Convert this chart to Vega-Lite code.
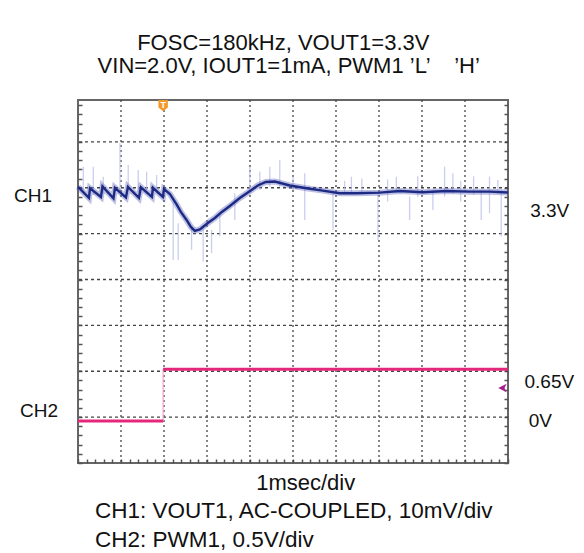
{
  "$schema": "https://vega.github.io/schema/vega-lite/v6.json",
  "width": 430,
  "height": 363,
  "autosize": "none",
  "padding": {"left": 78, "top": 100, "right": 76, "bottom": 90},
  "background": "white",
  "config": {
    "view": {"stroke": "#666666", "strokeWidth": 2},
    "font": "Liberation Sans",
    "text": {"font": "Liberation Sans", "color": "#111111"}
  },
  "datasets": {
    "gridx": [{"t": -1}, {"t": 0}, {"t": 1}, {"t": 2}, {"t": 3}, {"t": 4}, {"t": 5}, {"t": 6}, {"t": 7}],
    "gridy": [{"mV": -50}, {"mV": -40}, {"mV": -30}, {"mV": -20}, {"mV": -10}, {"mV": 0}, {"mV": 10}],
    "ch1": [
      {"t": -2.000, "mV": 0.2}, {"t": -1.745, "mV": -2.2}, {"t": -1.721, "mV": -0.1}, {"t": -1.466, "mV": -2.0},
      {"t": -1.431, "mV": 0.3}, {"t": -1.175, "mV": -2.3}, {"t": -1.141, "mV": 0.0}, {"t": -0.885, "mV": -2.1},
      {"t": -0.839, "mV": 0.2}, {"t": -0.583, "mV": -2.2}, {"t": -0.537, "mV": 0.1}, {"t": -0.281, "mV": -2.0},
      {"t": -0.258, "mV": 0.0}, {"t": -0.026, "mV": -2.0}, {"t": 0.000, "mV": -0.3}, {"t": 0.137, "mV": -1.35},
      {"t": 0.293, "mV": -3.64}, {"t": 0.392, "mV": -5.27}, {"t": 0.525, "mV": -7.02}, {"t": 0.625, "mV": -8.54},
      {"t": 0.718, "mV": -9.41}, {"t": 0.834, "mV": -9.08}, {"t": 1.020, "mV": -7.67}, {"t": 1.182, "mV": -6.58},
      {"t": 1.345, "mV": -5.27}, {"t": 1.531, "mV": -3.97}, {"t": 1.763, "mV": -2.22}, {"t": 2.035, "mV": -0.48},
      {"t": 2.181, "mV": 0.50}, {"t": 2.367, "mV": 1.26}, {"t": 2.576, "mV": 1.37}, {"t": 2.925, "mV": 0.50},
      {"t": 3.312, "mV": -0.11}, {"t": 3.691, "mV": -0.63}, {"t": 4.086, "mV": -1.20}, {"t": 4.474, "mV": -1.20},
      {"t": 5.015, "mV": -1.07}, {"t": 5.480, "mV": -0.70}, {"t": 6.014, "mV": -0.98}, {"t": 6.565, "mV": -0.70},
      {"t": 7.106, "mV": -0.85}, {"t": 7.570, "mV": -0.85}, {"t": 8.000, "mV": -1.02}
    ],
    "spikes": [
      {"t": -1.877, "lo": -0.48, "hi": 4.6}, {"t": -1.645, "lo": -1.57, "hi": 4.6}, {"t": -1.412, "lo": -1.2, "hi": 2.42},
      {"t": -1.024, "lo": -0.48, "hi": 9.69}, {"t": -0.832, "lo": -0.48, "hi": 4.97}, {"t": -0.599, "lo": -0.85, "hi": 3.88},
      {"t": -0.404, "lo": -1.2, "hi": 3.51}, {"t": -0.172, "lo": -1.2, "hi": 2.79}, {"t": 0.214, "lo": -15.73, "hi": -2.66},
      {"t": 0.330, "lo": -15.73, "hi": -7.73}, {"t": 0.641, "lo": -13.55, "hi": -8.47}, {"t": 0.911, "lo": -16.1, "hi": -8.47},
      {"t": 1.106, "lo": -14.27, "hi": -9.19}, {"t": 1.299, "lo": -10.65, "hi": -5.56}, {"t": 1.647, "lo": -7.02, "hi": -1.2},
      {"t": 1.995, "lo": -1.2, "hi": 4.6}, {"t": 2.228, "lo": -0.48, "hi": 3.51}, {"t": 2.460, "lo": 0.24, "hi": 4.6},
      {"t": 2.692, "lo": 0.24, "hi": 6.06}, {"t": 3.001, "lo": -0.48, "hi": 2.42}, {"t": 3.273, "lo": -7.02, "hi": 3.16},
      {"t": 3.930, "lo": -9.19, "hi": -0.48}, {"t": 4.200, "lo": -1.5, "hi": 1.5}, {"t": 4.358, "lo": -1.2, "hi": 2.42},
      {"t": 4.600, "lo": -1.0, "hi": 2.0}, {"t": 4.976, "lo": -11.37, "hi": -1.2}, {"t": 5.200, "lo": -3.0, "hi": 1.8},
      {"t": 5.403, "lo": -1.2, "hi": 2.42}, {"t": 5.712, "lo": -7.02, "hi": -1.94}, {"t": 5.900, "lo": -2.0, "hi": 2.5},
      {"t": 6.253, "lo": -4.84, "hi": -0.48}, {"t": 6.525, "lo": -1.94, "hi": 4.6}, {"t": 6.718, "lo": -1.2, "hi": 3.16},
      {"t": 6.900, "lo": -3.0, "hi": 1.5}, {"t": 7.200, "lo": -1.5, "hi": 2.5}, {"t": 7.377, "lo": -7.02, "hi": -0.48},
      {"t": 7.570, "lo": -5.56, "hi": 2.42}, {"t": 7.764, "lo": -1.2, "hi": 1.7}, {"t": 7.842, "lo": -10.65, "hi": -0.48}
    ],
    "ch2": [
      {"t": -2.0, "v": 0.0, "seg": "low"}, {"t": -0.02, "v": 0.0, "seg": "low"},
      {"t": -0.02, "v": 0.565, "seg": "high"}, {"t": 8.0, "v": 0.565, "seg": "high"}
    ],
    "ch2edge": [{"t": -0.02, "lo": 0.0, "hi": 0.565}],
    "ch2level": [{"t": 7.87, "v": 0.36}],
    "trigger": [{"t": -0.02, "mV": 17.9, "label": "T"}],
    "labels": [
      {"role": "side", "text": "CH1", "t": -3.487, "mV": -3.03},
      {"role": "side", "text": "CH2", "t": -3.347, "mV": -49.87},
      {"role": "side", "text": "3.3V", "t": 8.516, "mV": -6.30},
      {"role": "side", "text": "0.65V", "t": 8.383, "mV": -43.72},
      {"role": "side", "text": "0V", "t": 8.483, "mV": -52.05},
      {"role": "title", "text": "FOSC=180kHz, VOUT1=3.3V", "t": 2.774, "mV": 30.1},
      {"role": "title", "text": "VIN=2.0V, IOUT1=1mA, PWM1 ’L’ \u00a0\u00a0\u00a0’H’", "t": 2.901, "mV": 25.08},
      {"role": "title", "text": "1msec/div", "t": 3.296, "mV": -65.86},
      {"role": "foot", "text": "CH1: VOUT1, AC-COUPLED, 10mV/div", "t": -1.605, "mV": -71.98},
      {"role": "foot", "text": "CH2: PWM1, 0.5V/div", "t": -1.605, "mV": -78.3}
    ]
  },
  "resolve": {"scale": {"y": "independent"}, "axis": {"y": "independent"}},
  "layer": [
    {
      "data": {"name": "gridx"},
      "mark": {"type": "rule", "color": "#444444", "strokeWidth": 1.3, "strokeDash": [2, 3]},
      "encoding": {
        "x": {
          "field": "t", "type": "quantitative",
          "scale": {"domain": [-2, 8], "nice": false, "zero": false},
          "axis": {"title": null, "labels": false, "domain": false, "grid": false, "ticks": true,
                   "tickCount": 50, "tickSize": -4, "tickColor": "#555555", "tickWidth": 1.5}
        }
      }
    },
    {
      "data": {"name": "gridy"},
      "mark": {"type": "rule", "color": "#444444", "strokeWidth": 1.3, "strokeDash": [3, 3]},
      "encoding": {
        "y": {
          "field": "mV", "type": "quantitative",
          "scale": {"domain": [-60, 19.13], "nice": false, "zero": false},
          "axis": {"orient": "right", "title": null, "labels": false, "domain": false, "grid": false, "ticks": true,
                   "tickCount": 40, "tickSize": -4, "tickColor": "#555555", "tickWidth": 1.5}
        }
      }
    },
    {
      "data": {"name": "spikes"},
      "mark": {"type": "rule", "color": "#b9bde9", "strokeWidth": 1.3, "opacity": 0.75},
      "encoding": {
        "x": {"field": "t", "type": "quantitative"},
        "y": {"field": "lo", "type": "quantitative", "scale": {"domain": [-60, 19.13], "nice": false, "zero": false}, "axis": null},
        "y2": {"field": "hi"}
      }
    },
    {
      "data": {"name": "ch1"},
      "mark": {"type": "line", "color": "#5a62b8", "strokeWidth": 6, "opacity": 0.4},
      "encoding": {
        "x": {"field": "t", "type": "quantitative"},
        "y": {"field": "mV", "type": "quantitative", "scale": {"domain": [-60, 19.13], "nice": false, "zero": false}, "axis": null},
        "order": {"value": null}
      }
    },
    {
      "data": {"name": "ch1"},
      "mark": {"type": "line", "color": "#1d2a84", "strokeWidth": 2.4},
      "encoding": {
        "x": {"field": "t", "type": "quantitative"},
        "y": {
          "field": "mV", "type": "quantitative",
          "scale": {"domain": [-60, 19.13], "nice": false, "zero": false},
          "axis": {"orient": "left", "title": null, "labels": false, "domain": false, "grid": false, "ticks": true,
                   "tickCount": 40, "tickSize": -4, "tickColor": "#555555", "tickWidth": 1.5}
        },
        "order": {"value": null}
      }
    },
    {
      "data": {"name": "ch2edge"},
      "mark": {"type": "rule", "color": "#f3a6c8", "strokeWidth": 1.2},
      "encoding": {
        "x": {"field": "t", "type": "quantitative"},
        "y": {"field": "lo", "type": "quantitative", "scale": {"domain": [-0.4575, 3.497], "nice": false, "zero": false}, "axis": null},
        "y2": {"field": "hi"}
      }
    },
    {
      "data": {"name": "ch2"},
      "mark": {"type": "line", "color": "#e3287b", "strokeWidth": 3},
      "encoding": {
        "x": {"field": "t", "type": "quantitative"},
        "y": {"field": "v", "type": "quantitative", "scale": {"domain": [-0.4575, 3.497], "nice": false, "zero": false}, "axis": null},
        "detail": {"field": "seg"},
        "order": {"value": null}
      }
    },
    {
      "data": {"name": "ch2level"},
      "mark": {"type": "point", "shape": "M1,-1L-1,0L1,1L0.5,0Z", "filled": true, "size": 70, "color": "#a31f8c", "opacity": 1},
      "encoding": {
        "x": {"field": "t", "type": "quantitative"},
        "y": {"field": "v", "type": "quantitative", "scale": {"domain": [-0.4575, 3.497], "nice": false, "zero": false}, "axis": null}
      }
    },
    {
      "data": {"name": "trigger"},
      "mark": {"type": "point", "shape": "M-1,-1.2L1,-1.2L1,0.4L0,1.2L-1,0.4Z", "filled": true, "size": 90, "color": "#f29a2e", "opacity": 1},
      "encoding": {
        "x": {"field": "t", "type": "quantitative"},
        "y": {"field": "mV", "type": "quantitative", "scale": {"domain": [-60, 19.13], "nice": false, "zero": false}, "axis": null}
      }
    },
    {
      "data": {"name": "trigger"},
      "mark": {"type": "text", "color": "white", "fontSize": 9, "fontWeight": "bold", "baseline": "middle", "align": "center", "dy": -1},
      "encoding": {
        "x": {"field": "t", "type": "quantitative"},
        "y": {"field": "mV", "type": "quantitative", "scale": {"domain": [-60, 19.13], "nice": false, "zero": false}, "axis": null},
        "text": {"field": "label"}
      }
    },
    {
      "data": {"name": "labels"},
      "transform": [{"filter": "datum.role === 'side'"}],
      "mark": {"type": "text", "fontSize": 19, "align": "left", "baseline": "alphabetic"},
      "encoding": {
        "x": {"field": "t", "type": "quantitative"},
        "y": {"field": "mV", "type": "quantitative", "scale": {"domain": [-60, 19.13], "nice": false, "zero": false}, "axis": null},
        "text": {"field": "text"}
      }
    },
    {
      "data": {"name": "labels"},
      "transform": [{"filter": "datum.role === 'title'"}],
      "mark": {"type": "text", "fontSize": 22, "align": "center", "baseline": "alphabetic"},
      "encoding": {
        "x": {"field": "t", "type": "quantitative"},
        "y": {"field": "mV", "type": "quantitative", "scale": {"domain": [-60, 19.13], "nice": false, "zero": false}, "axis": null},
        "text": {"field": "text"}
      }
    },
    {
      "data": {"name": "labels"},
      "transform": [{"filter": "datum.role === 'foot'"}],
      "mark": {"type": "text", "fontSize": 22.5, "align": "left", "baseline": "alphabetic"},
      "encoding": {
        "x": {"field": "t", "type": "quantitative"},
        "y": {"field": "mV", "type": "quantitative", "scale": {"domain": [-60, 19.13], "nice": false, "zero": false}, "axis": null},
        "text": {"field": "text"}
      }
    }
  ]
}
